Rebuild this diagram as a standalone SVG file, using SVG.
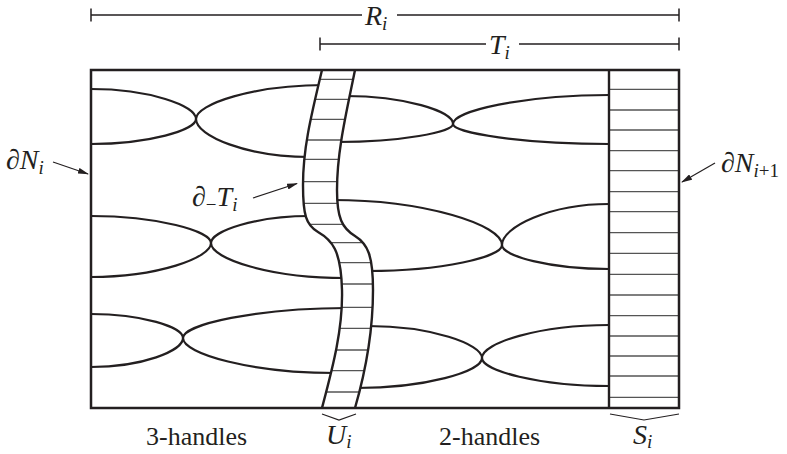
<svg xmlns="http://www.w3.org/2000/svg" width="787" height="454" viewBox="0 0 787 454">
<style>
.frame{fill:none;stroke:#231f20;stroke-width:2.5}
.h{fill:none;stroke:#231f20;stroke-width:2.2}
.rung{stroke:#555;stroke-width:1.3}
.bd{fill:none;stroke:#231f20;stroke-width:2.4}
.lbl{font-family:"Liberation Serif","Times New Roman",serif;font-size:26px;fill:#231f20}
.mth{font-family:"Liberation Serif","Times New Roman",serif;font-size:28px;fill:#231f20}
.it{font-style:italic}
.sub{font-size:19px}
.arr{stroke:#231f20;stroke-width:1.2;fill:none;marker-end:url(#ah)}
.dim{stroke:#231f20;stroke-width:1.5;fill:none}
.brk{stroke:#231f20;stroke-width:1.2;fill:none}
</style>
<defs>
<marker id="ah" markerWidth="11" markerHeight="6" refX="10" refY="3" orient="auto" markerUnits="userSpaceOnUse"><path d="M0,0 L11,3 L0,6 Z" fill="#231f20"/></marker>
<clipPath id="uclip"><path d="M322,70 C310,120 303,150 303,185 C303,215 306,225 318,232 C332,240 341,250 342,290 C343,330 332,370 322,408 L355,408 C366,370 373,330 373,290 C373,256 368,244 355,236 C342,228 337,218 337,190 C337,150 347,110 355,70 Z"/></clipPath>
</defs>
<rect width="787" height="454" fill="#fff"/>

<g id="handles-3">
<path class="h" d="M91,89 C149,89 196,105.5 196,119"/>
<path class="h" d="M91,144 C149,144 196,130 196,119"/>
<path class="h" d="M325,85 C254,85 196,104 196,119"/>
<path class="h" d="M310,157 C247,157 196,136 196,119"/>
<path class="h" d="M91,216 C157,216 211,231 211,243"/>
<path class="h" d="M91,277 C157,277 211,258 211,243"/>
<path class="h" d="M310,216 C256,216 211,231 211,243"/>
<path class="h" d="M345,278 C271,278 211,259 211,243"/>
<path class="h" d="M91,314 C142,314 183,327 183,338"/>
<path class="h" d="M91,367 C142,367 183,351 183,338"/>
<path class="h" d="M347,308 C257,308 183,324.5 183,338"/>
<path class="h" d="M336,373 C252,373 183,354 183,338"/>
</g>

<g id="handles-2">
<path class="h" d="M345,96 C404,96 453,111 453,124"/>
<path class="h" d="M337,142 C401,142 453,132 453,124"/>
<path class="h" d="M609,95 C523,95 453,111 453,124"/>
<path class="h" d="M609,144 C523,144 453,133 453,124"/>
<path class="h" d="M332,200 C426,200 502,225 502,245"/>
<path class="h" d="M368,271 C442,271 502,257 502,245"/>
<path class="h" d="M609,204 C550,204 502,227 502,245"/>
<path class="h" d="M609,269 C550,269 502,256 502,245"/>
<path class="h" d="M368,326 C431,326 482,344 482,358"/>
<path class="h" d="M356,388 C425,388 482,371.5 482,358"/>
<path class="h" d="M609,325 C539,325 482,343 482,358"/>
<path class="h" d="M609,386 C539,386 482,370.6 482,358"/>
</g>

<g id="strip-U">
<path d="M322,70 C310,120 303,150 303,185 C303,215 306,225 318,232 C332,240 341,250 342,290 C343,330 332,370 322,408 L355,408 C366,370 373,330 373,290 C373,256 368,244 355,236 C342,228 337,218 337,190 C337,150 347,110 355,70 Z" fill="#fff"/>
<g clip-path="url(#uclip)">
<path class="rung" d="M295,79.3H380M295,99.3H380M295,119.3H380M295,140H380M295,159.3H380M295,181.7H380M295,203.3H380M295,224.3H380M295,242.7H380M295,262.7H380M295,284H380M295,307.3H380M295,328.3H380M295,350H380M295,370.7H380M295,392H380"/>
</g>
<path class="bd" d="M322,70 C310,120 303,150 303,185 C303,215 306,225 318,232 C332,240 341,250 342,290 C343,330 332,370 322,408"/>
<path class="bd" d="M355,70 C347,110 337,150 337,190 C337,218 342,228 355,236 C368,244 373,256 373,290 C373,330 366,370 355,408"/>
</g>

<g id="strip-S">
<path class="rung" d="M609,89.3H679M609,110H679M609,130H679M609,150.7H679M609,170.7H679M609,191.7H679M609,211.7H679M609,232.7H679M609,253.3H679M609,274.3H679M609,295H679M609,315.7H679M609,336H679M609,356H679M609,376H679M609,397.3H679"/>
<line class="bd" x1="609" y1="70" x2="609" y2="408"/>
</g>

<g id="frame">
<rect class="frame" x="91" y="70" width="588" height="338"/>
</g>

<g id="connectors">
<path class="dim" d="M91,15H362M397,15H679M91,8.5V21.5M679,8.5V21.5"/>
<path class="dim" d="M320,44H486M519,44H679M320,37.5V50.5M679,37.5V50.5"/>
<path class="arr" d="M53,162 L88,174"/>
<path class="arr" d="M253,198 L297,183.5"/>
<path class="arr" d="M715,163 L682,182"/>
<path class="brk" d="M322,414 L339,420 L356,414"/>
<path class="brk" d="M610,414 L644,420 L679,414"/>
</g>

<g id="labels">
<text class="mth it" x="365" y="25">R<tspan class="sub" dy="5">i</tspan></text>
<text class="mth it" x="489" y="54">T<tspan class="sub" dy="5">i</tspan></text>
<text class="mth" x="6" y="169">∂<tspan class="it">N</tspan><tspan class="sub it" dy="5">i</tspan></text>
<text class="mth" x="192" y="206">∂<tspan class="sub" dy="5">−</tspan><tspan class="it" dy="-5">T</tspan><tspan class="sub it" dy="5">i</tspan></text>
<text class="mth" x="721" y="172">∂<tspan class="it">N</tspan><tspan class="sub" dy="5"><tspan class="it">i</tspan>+1</tspan></text>
<text class="lbl" x="146" y="445">3-handles</text>
<text class="mth it" x="326" y="444">U<tspan class="sub" dy="4">i</tspan></text>
<text class="lbl" x="439" y="445">2-handles</text>
<text class="mth it" x="633" y="444">S<tspan class="sub" dy="4">i</tspan></text>
</g>
</svg>
